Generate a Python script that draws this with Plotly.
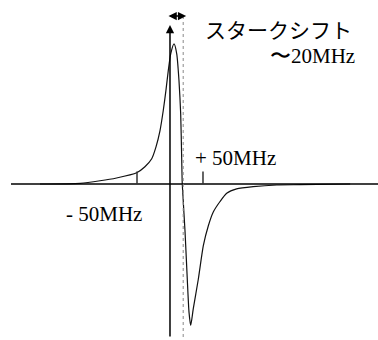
import plotly.graph_objects as go

# Detuning (MHz) and normalized signal of the shifted dispersion-like line
freq_mhz = [-197, -136, -106, -81, -50.5, -38, -27.7, -21.2, -15.2, -10.2, -6.1,
            -2.6, 1.1, 6.1, 10.2, 13.6, 16.2, 17.7, 18.6, 22.7, 26.2, 28.8, 31.4,
            35.3, 42.9, 50.5, 58.0, 65.6, 75.8, 85.9, 101, 126, 162, 197, 273]
signal = [0, 0.005, 0.023, 0.043, 0.08, 0.123, 0.18, 0.265, 0.38, 0.525, 0.67,
          0.81, 0.93, 1.0, 0.93, 0.74, 0.50, 0.19, 0, -0.33, -0.68, -0.915, -1.01,
          -0.89, -0.68, -0.44, -0.30, -0.20, -0.125, -0.066, -0.035, -0.019,
          -0.007, -0.005, 0]

tick_mhz = [-50, 50]
tick_labels = ["- 50MHz", "+ 50MHz"]
shift_mhz = 20
shift_label = "〜20MHz"
title_text = "スタークシフト"

W, H = 378, 340
X_RANGE = [-257.6, 315.2]
Y_RANGE = [-1.114, 1.314]


def px_x(px):
    return X_RANGE[0] + px / W * (X_RANGE[1] - X_RANGE[0])


def px_y(py):
    return Y_RANGE[1] - py / H * (Y_RANGE[1] - Y_RANGE[0])


fig = go.Figure()

fig.add_trace(go.Scatter(
    x=freq_mhz, y=signal, mode="lines",
    line=dict(color="#111111", width=1.2, shape="spline", smoothing=0.6),
    hoverinfo="skip", showlegend=False,
))

shapes = []
# horizontal (frequency) axis
shapes.append(dict(type="line", xref="x", yref="y", x0=px_x(11), x1=X_RANGE[1],
                   y0=0, y1=0, line=dict(color="black", width=1.5)))
# tick marks
for t in tick_mhz:
    shapes.append(dict(type="line", xref="x", yref="y", x0=t, x1=t, y0=0, y1=0.09,
                       line=dict(color="#333333", width=1.5)))
# shifted line centre
shapes.append(dict(type="line", xref="x", yref="y", x0=shift_mhz, x1=shift_mhz,
                   y0=px_y(16), y1=Y_RANGE[0],
                   line=dict(color="#888888", width=1, dash="dot")))

annotations = []
# vertical (signal) axis with arrow
annotations.append(dict(x=0, y=px_y(25), ax=0, ay=px_y(338), xref="x", yref="y",
                        axref="x", ayref="y", showarrow=True, arrowhead=2,
                        arrowsize=1.1, arrowwidth=1.5, arrowcolor="black", text=""))
# double arrow marking the Stark shift
over = 4.5
annotations.append(dict(x=shift_mhz + over, y=px_y(16), ax=-over, ay=px_y(16),
                        xref="x", yref="y", axref="x", ayref="y", showarrow=True,
                        arrowhead=2, startarrowhead=2, arrowside="end+start",
                        arrowsize=1.1, startarrowsize=1.1, arrowwidth=1.5,
                        arrowcolor="black", text=""))

annotations.append(dict(x=203 / W, y=1 - 29 / H, xref="paper", yref="paper",
                        text=title_text, showarrow=False, xanchor="left",
                        yanchor="middle",
                        font=dict(family="Noto Sans CJK JP", size=21, color="black")))
annotations.append(dict(x=357 / W, y=1 - 56 / H, xref="paper", yref="paper",
                        text=shift_label, showarrow=False, xanchor="right",
                        yanchor="middle",
                        font=dict(family="Liberation Serif", size=21, color="black")))
annotations.append(dict(x=tick_mhz[1], y=px_y(158), xref="x", yref="y",
                        text=tick_labels[1], showarrow=False, xanchor="left",
                        yanchor="middle", xshift=-10,
                        font=dict(family="Liberation Serif", size=21, color="black")))
annotations.append(dict(x=tick_mhz[0], y=px_y(214), xref="x", yref="y",
                        text=tick_labels[0], showarrow=False, xanchor="right",
                        yanchor="middle", xshift=7,
                        font=dict(family="Liberation Serif", size=21, color="black")))

fig.update_layout(
    width=W, height=H, autosize=False,
    margin=dict(l=0, r=0, t=0, b=0, pad=0),
    paper_bgcolor="white", plot_bgcolor="white",
    xaxis=dict(range=X_RANGE, visible=False, fixedrange=True),
    yaxis=dict(range=Y_RANGE, visible=False, fixedrange=True),
    shapes=shapes, annotations=annotations,
)

fig.write_html("out.html")
